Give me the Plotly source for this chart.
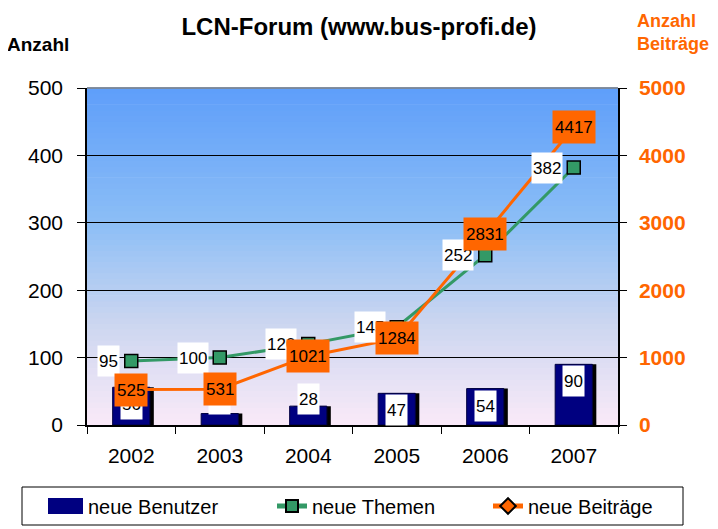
import plotly.graph_objects as go

years = ["2002", "2003", "2004", "2005", "2006", "2007"]
neue_benutzer = [56, 17, 28, 47, 54, 90]
neue_themen = [95, 100, 120, 145, 252, 382]
neue_beitraege = [525, 531, 1021, 1284, 2831, 4417]

FONT = "Liberation Sans, Arial, sans-serif"
NAVY = "#000080"
GREEN = "#339966"
ORANGE = "#FF6600"

# the page body adds an 8px margin, so the figure is 8px smaller than the window
FIG_W, FIG_H = 710, 521
PLOT_L, PLOT_T, PLOT_W, PLOT_H = 79, 80, 531, 337


def gradient_shapes(steps: int = 60) -> list[dict]:
    # Excel-like vertical fill: blue at the top, pale pink at the bottom
    stops = [(0.0, (250, 234, 248)), (0.3, (204, 214, 240)), (0.6, (140, 190, 246)), (1.0, (94, 158, 250))]
    shapes = []
    for i in range(steps):
        t = (i + 0.5) / steps
        for (p0, c0), (p1, c1) in zip(stops, stops[1:]):
            if p0 <= t <= p1:
                f = (t - p0) / (p1 - p0)
                rgb = tuple(round(a + (b - a) * f) for a, b in zip(c0, c1))
                break
        shapes.append(
            dict(
                type="rect", xref="x domain", yref="y domain",
                x0=0, x1=1, y0=i / steps, y1=(i + 1) / steps + 0.002,
                fillcolor=f"rgb{rgb}", line_width=0, layer="below",
            )
        )
    return shapes


def px_x(x: float) -> float:
    return (x - PLOT_L) / PLOT_W


def px_y(y: float) -> float:
    return (PLOT_T + PLOT_H - y) / PLOT_H


fig = go.Figure()

# bar shadow, then the bars themselves
fig.add_trace(go.Bar(
    x=years, y=neue_benutzer, width=0.42, offset=-0.21 + 0.045,
    marker=dict(color="black", line_width=0), showlegend=False, hoverinfo="skip",
))
fig.add_trace(go.Bar(
    x=years, y=neue_benutzer, width=0.42, offset=-0.21, name="neue Benutzer",
    marker=dict(color=NAVY, line=dict(color="#000040", width=1)), showlegend=False,
))
# legend text only; the wide swatch is drawn as a shape below
fig.add_trace(go.Scatter(
    x=[None], y=[None], name="neue Benutzer", mode="lines",
    line=dict(color="rgba(0,0,0,0)", width=1), legend="legend", hoverinfo="skip",
))
fig.add_trace(go.Scatter(
    x=years, y=neue_themen, name="neue Themen", mode="lines+markers", legend="legend2",
    line=dict(color=GREEN, width=3),
    marker=dict(symbol="square", size=13, color=GREEN, line=dict(color="black", width=1.5)),
))
fig.add_trace(go.Scatter(
    x=years, y=neue_beitraege, name="neue Beiträge", mode="lines+markers", yaxis="y2",
    legend="legend3",
    line=dict(color=ORANGE, width=3),
    marker=dict(symbol="diamond", size=13, color=ORANGE, line=dict(color="black", width=1)),
))

# annotations on a category axis take the category index
annotations = []
for i, v in enumerate(neue_benutzer):
    if v < 35:
        pos = dict(y=0, yanchor="bottom", yshift=10)
    else:
        pos = dict(y=v, yanchor="top", yshift=-1)
    annotations.append(dict(
        x=i, text=str(v), showarrow=False, bgcolor="white", height=28, borderpad=1,
        font=dict(family=FONT, size=17, color="black"), **pos,
    ))
for i, v in enumerate(neue_themen):
    annotations.append(dict(
        x=i, y=v, text=str(v), showarrow=False, xanchor="right", xshift=-11,
        bgcolor="white", height=28, borderpad=1,
        font=dict(family=FONT, size=17, color="black"),
    ))
for i, v in enumerate(neue_beitraege):
    annotations.append(dict(
        x=i, y=v, yref="y2", text=str(v), showarrow=False,
        bgcolor=ORANGE, height=28, borderpad=2,
        font=dict(family=FONT, size=17, color="black"),
    ))
annotations.append(dict(
    xref="paper", yref="paper", x=px_x(-3), y=px_y(37), xanchor="left", yanchor="middle",
    text="<b>Anzahl</b>", showarrow=False, font=dict(family=FONT, size=19, color="black"),
))
annotations.append(dict(
    xref="paper", yref="paper", x=px_x(627), y=px_y(24), xanchor="left", yanchor="middle",
    align="left", text="<b>Anzahl<br>Beiträge</b>", showarrow=False,
    font=dict(family=FONT, size=18, color=ORANGE),
))

shapes = gradient_shapes()
shapes.append(dict(type="line", xref="x domain", yref="y domain", x0=0, x1=1, y0=1, y1=1,
                   line=dict(color="#808080", width=1.5)))
# legend frame and the bar swatch
shapes.append(dict(type="rect", xref="paper", yref="paper",
                   x0=px_x(14), x1=px_x(675), y0=px_y(517), y1=px_y(479),
                   line=dict(color="black", width=1), fillcolor="rgba(0,0,0,0)"))
shapes.append(dict(type="rect", xref="paper", yref="paper",
                   x0=px_x(40), x1=px_x(75), y0=px_y(506), y1=px_y(490),
                   line_width=0, fillcolor=NAVY))

legend_common = dict(
    orientation="h", xref="container", yref="container", xanchor="left",
    y=1 - 498 / FIG_H, yanchor="middle", bgcolor="rgba(0,0,0,0)", borderwidth=0,
    font=dict(family=FONT, size=20), itemsizing="constant",
)

fig.update_layout(
    width=FIG_W, height=FIG_H,
    margin=dict(l=PLOT_L, r=FIG_W - PLOT_L - PLOT_W, t=PLOT_T, b=FIG_H - PLOT_T - PLOT_H,
                autoexpand=False),
    paper_bgcolor="white", plot_bgcolor="white",
    barmode="overlay",
    font=dict(family=FONT, size=20, color="black"),
    title=dict(text="<b>LCN-Forum (www.bus-profi.de)</b>", x=(359 - 8) / FIG_W, xref="container",
               xanchor="center", y=1 - 19 / FIG_H, yref="container", yanchor="middle",
               font=dict(size=24)),
    xaxis=dict(
        type="category", range=[-0.5, len(years) - 0.5],
        tickson="boundaries", ticks="outside", ticklen=7, tickcolor="black",
        showline=True, linecolor="black", linewidth=1.5, showgrid=False,
        tickfont=dict(size=21), ticklabelstandoff=11,
    ),
    yaxis=dict(
        range=[0, 500], dtick=100, ticks="outside", ticklen=8, tickcolor="black",
        showline=True, linecolor="black", linewidth=1.5,
        showgrid=True, gridcolor="black", gridwidth=1, zeroline=False,
        tickfont=dict(size=21), ticklabelstandoff=10,
    ),
    yaxis2=dict(
        range=[0, 5000], dtick=1000, overlaying="y", side="right",
        ticks="outside", ticklen=7, tickcolor="black",
        showline=True, linecolor="black", linewidth=1.5, showgrid=False, zeroline=False,
        tickfont=dict(size=21, color=ORANGE, weight="bold"), ticklabelstandoff=8,
    ),
    legend=dict(x=(89 - 8 - 41) / FIG_W, **legend_common),
    legend2=dict(x=(313 - 8 - 41) / FIG_W, **legend_common),
    legend3=dict(x=(529 - 8 - 41) / FIG_W, **legend_common),
    shapes=shapes,
    annotations=annotations,
)

fig.write_html("out.html")
